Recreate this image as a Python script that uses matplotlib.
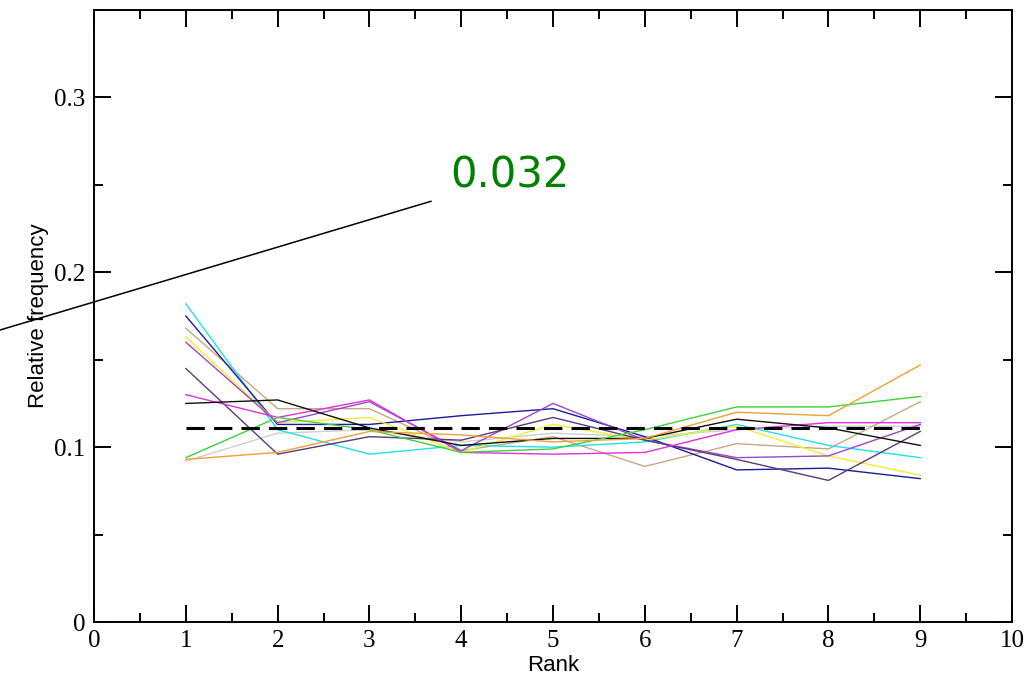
import numpy as np
from matplotlib import pyplot as plt
from matplotlib.ticker import MultipleLocator

# relative frequency of each rank, one list per run
rank = np.arange(1, 10)
cyan    = [0.182, 0.110, 0.096, 0.101, 0.100, 0.103, 0.113, 0.101, 0.094]
navy    = [0.175, 0.113, 0.113, 0.118, 0.122, 0.106, 0.087, 0.088, 0.082]
tan     = [0.168, 0.122, 0.122, 0.098, 0.106, 0.089, 0.102, 0.099, 0.126]
yellow  = [0.163, 0.114, 0.117, 0.097, 0.113, 0.104, 0.112, 0.095, 0.084]
violet  = [0.160, 0.114, 0.126, 0.098, 0.125, 0.104, 0.094, 0.095, 0.113]
purple  = [0.145, 0.096, 0.106, 0.104, 0.117, 0.104, 0.093, 0.081, 0.109]
magenta = [0.130, 0.117, 0.127, 0.097, 0.096, 0.097, 0.110, 0.114, 0.114]
black   = [0.125, 0.127, 0.111, 0.101, 0.105, 0.105, 0.116, 0.111, 0.101]
green   = [0.094, 0.117, 0.110, 0.097, 0.099, 0.110, 0.123, 0.123, 0.129]
orange  = [0.093, 0.097, 0.109, 0.107, 0.103, 0.105, 0.120, 0.118, 0.147]
grey    = [0.092, 0.108, 0.110, 0.103, 0.108, 0.106, 0.110, 0.112, 0.112]
uniform = 1/9
note = '0.032'

runs = [(grey,'#cfcfcf'),(tan,'#c8a882'),(cyan,'#20e0e8'),(navy,'#1c1c9c'),(yellow,'#f2ee30'),
        (violet,'#9a48c8'),(purple,'#5a3a78'),(magenta,'#e030e0'),(black,'#101010'),
        (green,'#3cd23c'),(orange,'#f0a038')]

fig = plt.figure(figsize=(10.31,6.81),dpi=100)
ax = fig.add_axes([0.0912,0.0866,0.8904,0.8987])
for y,c in runs:
    ax.plot(rank,y,color=c,lw=1.0)
ax.plot([1,9],[uniform,uniform],color='k',lw=2.2,dashes=(6,3))

ax.set_xlim(0,10)
ax.set_ylim(0,0.35)
ax.xaxis.set_major_locator(MultipleLocator(1))
ax.xaxis.set_minor_locator(MultipleLocator(0.5))
ax.yaxis.set_major_locator(MultipleLocator(0.1))
ax.yaxis.set_minor_locator(MultipleLocator(0.05))
ax.set_yticks([0,0.1,0.2,0.3])
ax.set_yticklabels(['0','0.1','0.2','0.3'])
ax.tick_params(which='both',direction='in',top=True,right=True,width=1.4,
               labelsize=18,pad=6)
ax.tick_params(which='major',length=12)
ax.tick_params(which='minor',length=6.5)
for l in ax.get_xticklabels()+ax.get_yticklabels():
    l.set_family('Liberation Serif')
for s in ax.spines.values():
    s.set_linewidth(1.4)
ax.set_xlabel('Rank',family='Liberation Sans',fontsize=16,labelpad=2)
ax.set_ylabel('Relative frequency',family='Liberation Sans',fontsize=16,labelpad=4)

# pointer line and its label
ax.plot([-1.03,3.67],[0.1669,0.2406],color='k',lw=1.1,clip_on=False)
ax.text(3.88,0.2486,note,color='#008000',fontsize=30,family='DejaVu Sans')

fig.savefig('out.png',dpi=100)
